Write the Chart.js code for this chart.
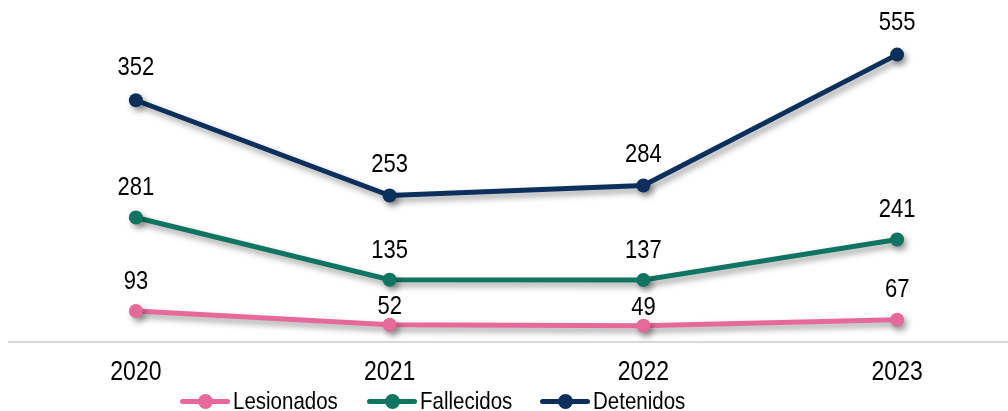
<!DOCTYPE html>
<html><head><meta charset="utf-8">
<script src="https://cdn.jsdelivr.net/npm/chart.js@4"></script>
<style>
html,body{margin:0;padding:0;background:#fff;overflow:hidden;}
#clip{position:relative;width:1008px;height:411px;overflow:hidden;}
#c{position:absolute;left:0;top:0;}
.item{position:absolute;top:389px;height:24px;font-family:"Liberation Sans",Arial,sans-serif;font-size:20.5px;color:#000;white-space:nowrap;line-height:24px;}
.mk{display:inline-block;position:relative;width:50px;height:15px;vertical-align:middle;margin-right:3px;top:-1px;}
.mk .ln{position:absolute;left:0;right:0;top:5px;height:5px;border-radius:3px;}
.mk .dt{position:absolute;left:18px;top:0;width:15px;height:15px;border-radius:50%;}
.tx{display:inline-block;transform:scaleY(1.2);transform-origin:50% 55%;}
</style></head>
<body>
<div id="clip"><canvas id="c" width="1031" height="411" style="width:1031px;height:411px"></canvas></div>
<script>
const categories = ['2020','2021','2022','2023'];
const lesionados = [93, 52, 49, 67];
const fallecidos = [281, 135, 137, 241];
const detenidos = [352, 253, 284, 555];
const seriesNames = ['Lesionados','Fallecidos','Detenidos'];
const seriesColors = ['#E56A9A','#107560','#0C2F5C'];
const seriesData = [lesionados, fallecidos, detenidos];
// vertical gap (px) between each value label and its point
const labelGap = [[29,18,18,30],[30,29,29,30],[32,31,31,32]];
const legendLeft = [180, 367, 540];
const FONT = '"Liberation Sans", Arial, sans-serif';
const STRETCH = 1.19;

function stretchedText(ctx, t, x, y){
  ctx.save(); ctx.translate(x, y); ctx.scale(1, STRETCH); ctx.fillText(t, 0, 0); ctx.restore();
}

const shadowPlugin = {
  id:'shadow',
  beforeDatasetsDraw(chart){
    const ctx = chart.ctx; ctx.save();
    ctx.shadowColor='rgba(0,0,0,0.38)'; ctx.shadowBlur=6; ctx.shadowOffsetX=3; ctx.shadowOffsetY=4;
  },
  afterDatasetsDraw(chart){ chart.ctx.restore(); }
};
const labelPlugin = {
  id:'vlabels',
  afterDatasetsDraw(chart){
    const ctx = chart.ctx; ctx.save();
    ctx.font='22px ' + FONT;
    ctx.fillStyle='#000'; ctx.textAlign='center'; ctx.textBaseline='middle';
    chart.data.datasets.forEach((ds,i)=>{
      const meta = chart.getDatasetMeta(i);
      meta.data.forEach((pt,j)=>{ stretchedText(ctx, String(ds.data[j]), pt.x, pt.y-labelGap[i][j]); });
    });
    // category tick labels, placed by the x scale
    const xs = chart.scales.x;
    ctx.font='23px ' + FONT;
    xs.ticks.forEach((tk,k)=>{ stretchedText(ctx, xs.getLabelForValue(tk.value), xs.getPixelForTick(k), chart.chartArea.bottom + 30); });
    ctx.restore();
  }
};

const chart = new Chart(document.getElementById('c'), {
  type:'line',
  data:{
    labels: categories,
    datasets: seriesNames.map((n,i)=>({
      label:n, data:seriesData[i], borderColor:seriesColors[i], backgroundColor:seriesColors[i],
      borderWidth:5, pointRadius:7, pointBorderWidth:0, pointBackgroundColor:seriesColors[i],
      fill:false, tension:0
    }))
  },
  options:{
    responsive:false, animation:false, devicePixelRatio:1,
    layout:{padding:{left:9,right:0,top:9,bottom:69}},
    plugins:{legend:{display:false}, tooltip:{enabled:false}},
    scales:{
      x:{offset:true, grid:{display:false, drawTicks:false}, border:{display:true,color:'#D9D9D9',width:2},
         ticks:{display:false}},
      y:{display:false, stacked:true, min:0, max:1000}
    }
  },
  plugins:[shadowPlugin,labelPlugin]
});

const clip = document.getElementById('clip');
chart.data.datasets.forEach((ds,i)=>{
  const it=document.createElement('div'); it.className='item'; it.style.left=legendLeft[i]+'px';
  it.innerHTML='<span class="mk"><span class="ln" style="background:'+ds.borderColor+'"></span><span class="dt" style="background:'+ds.borderColor+'"></span></span><span class="tx">'+ds.label+'</span>';
  clip.appendChild(it);
});
</script>
</body></html>
